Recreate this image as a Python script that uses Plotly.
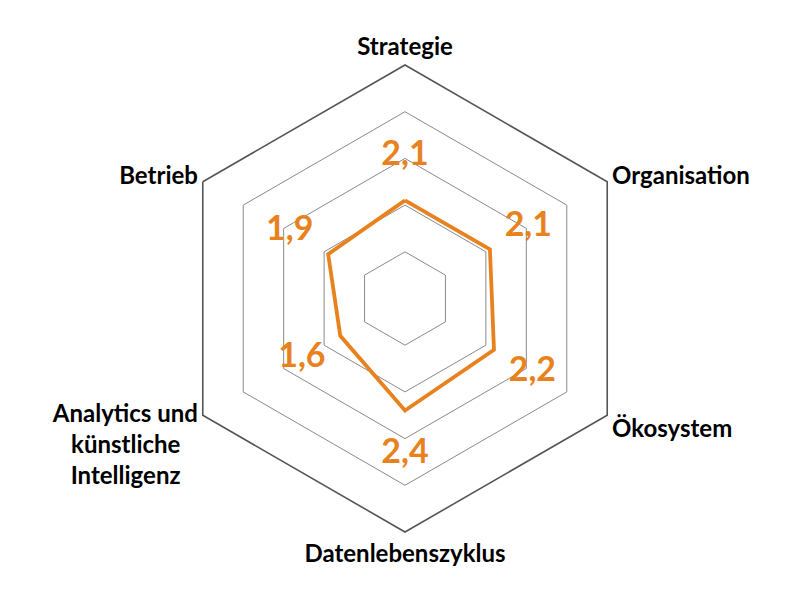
import plotly.graph_objects as go

# Reifegrad je Dimension (Skala 0-5)
dimensionen = ["Strategie", "Organisation", "Ökosystem", "Datenlebenszyklus",
               "Analytics", "Betrieb"]
# Achsenbeschriftung; \u00a0 schiebt die Zeilen des langen Labels in die Mitte
achsentext = ["Strategie", "Organisation", "Ökosystem", "Datenlebenszyklus",
              "Analytics und<br>künstliche\u00a0\u00a0\u00a0<br>Intelligenz\u00a0\u00a0\u00a0",
              "Betrieb"]
werte = [2.1, 2.1, 2.2, 2.4, 1.6, 1.9]
beschriftung = ["2,1", "2,1", "2,2", "2,4", "1,6", "1,9"]

ORANGE = "#E8821E"
FONT = "Lato"

fig = go.Figure()

# Linie der Werte (geschlossen)
fig.add_trace(go.Scatterpolar(
    r=werte + werte[:1],
    theta=dimensionen + dimensionen[:1],
    mode="lines",
    line=dict(color=ORANGE, width=3.8),
    hoverinfo="skip",
))

# Zahlen ausserhalb der Ecken
fig.add_trace(go.Scatterpolar(
    r=[v + 0.95 for v in werte],
    theta=dimensionen,
    mode="text",
    text=beschriftung,
    textfont=dict(family=FONT, size=34, color=ORANGE, weight="bold"),
    hoverinfo="skip",
))

fig.update_layout(
    width=800, height=592,
    paper_bgcolor="white",
    showlegend=False,
    margin=dict(l=75, r=81, t=57, b=68),
    font=dict(family=FONT),
    polar=dict(
        bgcolor="white",
        gridshape="linear",
        radialaxis=dict(
            range=[0, 5], tickvals=[1, 2, 3, 4, 5],
            showticklabels=False, ticks="", showline=False,
            gridcolor="#8a8a8a", gridwidth=1,
        ),
        angularaxis=dict(
            direction="clockwise", rotation=90,
            showgrid=False, ticks="",
            tickvals=dimensionen, ticktext=achsentext,
            linecolor="#555555", linewidth=1.6,
            tickfont=dict(family=FONT, size=24, color="black", weight="bold"),
        ),
    ),
)

fig.write_html("out.html")
